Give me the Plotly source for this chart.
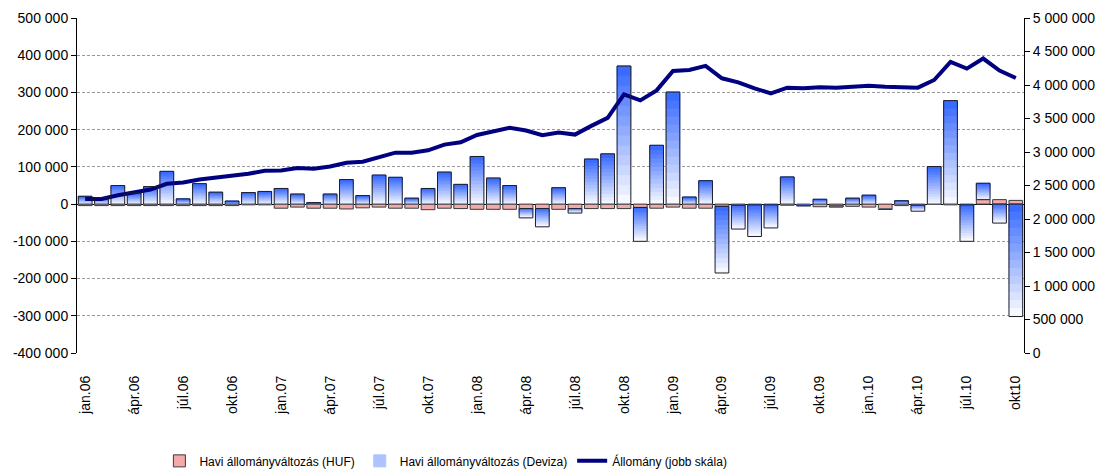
import plotly.graph_objects as go

# ---------------- data ----------------
months = [
    "jan.06", "febr.06", "márc.06", "ápr.06", "máj.06", "jún.06", "júl.06", "aug.06", "szept.06", "okt.06", "nov.06", "dec.06",
    "jan.07", "febr.07", "márc.07", "ápr.07", "máj.07", "jún.07", "júl.07", "aug.07", "szept.07", "okt.07", "nov.07", "dec.07",
    "jan.08", "febr.08", "márc.08", "ápr.08", "máj.08", "jún.08", "júl.08", "aug.08", "szept.08", "okt.08", "nov.08", "dec.08",
    "jan.09", "febr.09", "márc.09", "ápr.09", "máj.09", "jún.09", "júl.09", "aug.09", "szept.09", "okt.09", "nov.09", "dec.09",
    "jan.10", "febr.10", "márc.10", "ápr.10", "máj.10", "jún.10", "júl.10", "aug.10", "szept.10", "okt10",
]

huf = [
    -4000, -4000, -4000, -4000, -4000, -4000, -4000, -4000, -4000, -4000, -2000, -2000,
    -11000, -8000, -11000, -11000, -13000, -10000, -8000, -11000, -11000, -15000, -11000, -12000,
    -14000, -14000, -14000, -12000, -12000, -14000, -12000, -12000, -12000, -12000, -9000, -11000,
    -8000, -11000, -11000, -6000, -3000, -2000, -2000, -3000, -3000, -7000, -5000, -6000,
    -8000, -13000, -4000, -3000, -1000, -2000, -2000, 12000, 12000, 10000,
]

deviza = [
    21000, 17000, 50000, 30000, 47000, 88000, 14000, 55000, 32000, 8000, 31000, 34000,
    42000, 27000, 4000, 27000, 66000, 23000, 78000, 72000, 16000, 42000, 86000, 53000,
    128000, 70000, 50000, -25000, -49000, 44000, -12000, 121000, 135000, 371000, -91000, 158000,
    301000, 19000, 63000, -179000, -64000, -85000, -62000, 73000, -2000, 13000, -3000, 16000,
    24000, -1000, 9000, -16000, 101000, 278000, -98000, 44000, -51000, -302000,
]

allomany = [
    2300000, 2300000, 2355000, 2390000, 2440000, 2525000, 2545000, 2590000, 2620000, 2645000, 2675000, 2720000,
    2725000, 2760000, 2750000, 2785000, 2840000, 2855000, 2925000, 2990000, 2990000, 3025000, 3110000, 3145000,
    3255000, 3310000, 3360000, 3320000, 3250000, 3290000, 3260000, 3390000, 3510000, 3860000, 3770000, 3920000,
    4210000, 4225000, 4285000, 4100000, 4040000, 3950000, 3875000, 3960000, 3950000, 3965000, 3960000, 3975000,
    3990000, 3975000, 3975000, 3960000, 4075000, 4345000, 4245000, 4395000, 4215000, 4105000,
]

x_tick_labels = [
    "jan.06", "ápr.06", "júl.06", "okt.06",
    "jan.07", "ápr.07", "júl.07", "okt.07",
    "jan.08", "ápr.08", "júl.08", "okt.08",
    "jan.09", "ápr.09", "júl.09", "okt.09",
    "jan.10", "ápr.10", "júl.10", "okt10",
]

left_tick_values = [-400000, -300000, -200000, -100000, 0, 100000, 200000, 300000, 400000, 500000]
left_tick_labels = ["-400 000", "-300 000", "-200 000", "-100 000", "0",
                    "100 000", "200 000", "300 000", "400 000", "500 000"]
right_tick_values = [0, 500000, 1000000, 1500000, 2000000, 2500000, 3000000, 3500000, 4000000, 4500000, 5000000]
right_tick_labels = ["0", "500 000", "1 000 000", "1 500 000", "2 000 000", "2 500 000",
                     "3 000 000", "3 500 000", "4 000 000", "4 500 000", "5 000 000"]

series_names = ["Havi állományváltozás (HUF)", "Havi állományváltozás (Deviza)", "Állomány (jobb skála)"]

# ---------------- styling ----------------
FONT = "Liberation Sans, Arial, sans-serif"
NARROW = "Liberation Sans Narrow, Arial Narrow, Liberation Sans, Arial, sans-serif"
BLUE = (51, 102, 255)
WHITE = (253, 253, 255)
N_SEG = 14

# the page body has an 8px default margin, so the figure is sized to fit inside the window
FIG_W, FIG_H = 1103, 463


def mix(t):
    r = round(WHITE[0] + (BLUE[0] - WHITE[0]) * t)
    g = round(WHITE[1] + (BLUE[1] - WHITE[1]) * t)
    b = round(WHITE[2] + (BLUE[2] - WHITE[2]) * t)
    return f"rgb({r},{g},{b})"


fig = go.Figure()

# HUF bars
fig.add_trace(go.Bar(
    x=months, y=huf, name=series_names[0],
    marker=dict(color="#f6a9a9", line=dict(color="#3a3a3a", width=1)),
    legendrank=1, hoverinfo="skip",
))

# Deviza bars drawn as a vertical gradient (split into stacked slices)
for k in range(N_SEG):
    t = (k + 0.5) / N_SEG
    colors = [mix(t) if v >= 0 else mix(1 - t) for v in deviza]
    fig.add_trace(go.Bar(
        x=months, y=[v / N_SEG for v in deviza],
        name=series_names[1],
        marker=dict(color=colors, line=dict(color=colors, width=1)),
        showlegend=(k == 5), legendrank=2, hoverinfo="skip",
    ))

# Outlines of bars (separate overlaid axis so stacking is independent)
fig.add_trace(go.Bar(
    x=months, y=huf, xaxis="x2", yaxis="y",
    marker=dict(color="rgba(0,0,0,0)", line=dict(width=0)),
    showlegend=False, hoverinfo="skip",
))
fig.add_trace(go.Bar(
    x=months, y=deviza, xaxis="x2", yaxis="y",
    marker=dict(color="rgba(0,0,0,0)", line=dict(color="#1e1e28", width=1)),
    showlegend=False, hoverinfo="skip",
))

# Stock line (right scale)
fig.add_trace(go.Scatter(
    x=months, y=allomany, yaxis="y2", name=series_names[2],
    mode="lines", line=dict(color="#000080", width=4),
    legendrank=3, hoverinfo="skip",
))

fig.update_layout(
    width=FIG_W, height=FIG_H,
    margin=dict(l=69, r=87, t=10, b=118, autoexpand=False),
    paper_bgcolor="white", plot_bgcolor="white",
    font=dict(family=FONT, size=14, color="black"),
    barmode="relative", bargap=0.16,
    showlegend=True,
    legend=dict(
        orientation="h", x=0.087, xanchor="left", y=-0.322, yanchor="middle",
        font=dict(family=NARROW, size=12, color="black"),
        traceorder="normal", bgcolor="rgba(0,0,0,0)",
    ),
    xaxis=dict(
        type="category", categoryorder="array", categoryarray=months,
        range=[-0.5, len(months) - 0.5], automargin=False,
        tickmode="array", tickvals=x_tick_labels, ticktext=x_tick_labels,
        tickangle=-90, ticks="", showgrid=False, showline=False, zeroline=False,
        ticklabelstandoff=19, tickfont=dict(size=14),
    ),
    xaxis2=dict(
        type="category", overlaying="x", matches="x", visible=False,
        categoryorder="array", categoryarray=months,
    ),
    yaxis=dict(
        range=[-400000, 500000], tickmode="array", automargin=False,
        tickvals=left_tick_values, ticktext=left_tick_labels,
        showline=True, linecolor="black", linewidth=1,
        ticks="outside", ticklen=5, tickcolor="black",
        showgrid=True, gridcolor="#9a9a9a", gridwidth=1, griddash="3px,2px",
        zeroline=True, zerolinecolor="black", zerolinewidth=1,
    ),
    yaxis2=dict(
        overlaying="y", side="right", range=[0, 5000000], tickmode="array", automargin=False,
        tickvals=right_tick_values, ticktext=right_tick_labels,
        showline=True, linecolor="black", linewidth=1,
        ticks="outside", ticklen=5, tickcolor="black",
        showgrid=False, zeroline=False,
    ),
)

fig.write_html("out.html")
